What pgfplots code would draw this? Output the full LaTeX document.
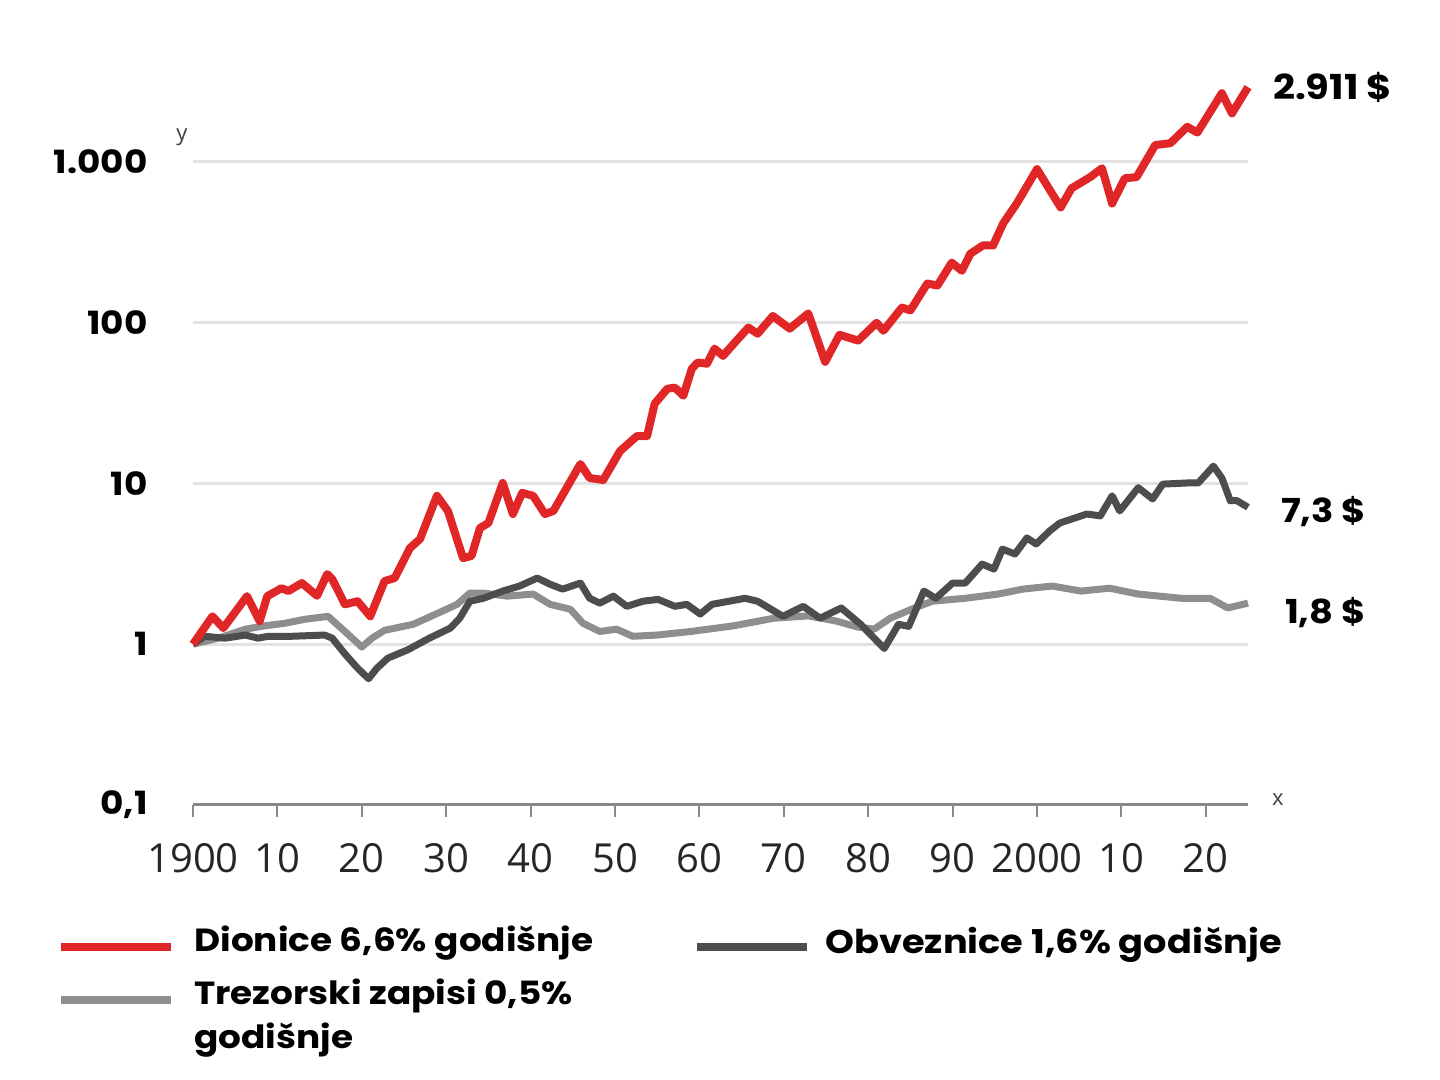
\documentclass[border=0pt]{standalone}
\usepackage{fontspec}
\setmainfont{Poppins}
\newfontfamily\lblfont{Poppins}[FakeStretch=1.12]
\newfontfamily\tickfont{Open Sans}
\usepackage{pgfplots}
\usepackage{pgfplotstable}
\pgfplotsset{compat=1.18}
\definecolor{stockred}{HTML}{E02626}
\definecolor{bonddark}{HTML}{4D4D4D}
\definecolor{billgrey}{HTML}{8E8E8E}
\definecolor{gridgrey}{HTML}{E2E2E2}
\definecolor{axisgrey}{HTML}{888888}

\pgfplotstableread{
year val
1900 1.0
1902.3 1.49
1903.6 1.26
1906.4 1.99
1907.9 1.39
1908.8 1.99
1910.5 2.23
1911.3 2.14
1912.9 2.40
1914.7 2.0
1915.9 2.73
1916.5 2.54
1918 1.77
1919.5 1.85
1921 1.49
1922.7 2.47
1923.9 2.58
1925.7 3.96
1926.9 4.51
1928.9 8.37
1930.2 6.74
1932 3.43
1933 3.54
1934 5.28
1935 5.67
1936.7 10.06
1937.9 6.45
1939 8.73
1940.3 8.37
1941.7 6.45
1942.7 6.74
1945.9 13.2
1947 10.8
1948.6 10.5
1950.6 15.9
1952.6 19.7
1953.8 19.7
1954.7 31.3
1956.2 38.8
1957.1 39.4
1958.1 35.1
1959.1 51.6
1959.8 56.5
1960.9 55.5
1961.8 68.9
1962.8 62.1
1964.4 77.3
1965.8 93.1
1966.9 85.3
1968.7 110
1970.7 91.7
1972.9 114
1974.9 57
1976.6 84
1978.8 77.3
1981 99.8
1981.8 89
1984 124
1985 119
1987 175
1988.2 170
1989.9 236
1991.1 210
1992.1 268
1993.6 302
1994.8 302
1996 415
1997.6 550
2000 900
2002.8 520
2004.1 685
2006.3 803
2007.7 912
2008.9 550
2010.4 790
2011.8 803
2014 1270
2015.8 1305
2017.8 1650
2019 1520
2021.9 2670
2023.1 2000
2025 2911
}\stocks

\pgfplotstableread{
year val
1900 1.0
1901.4 1.12
1903.8 1.09
1906.2 1.14
1907.7 1.09
1908.9 1.12
1911.7 1.12
1915.6 1.14
1916.5 1.09
1918 0.87
1919.5 0.71
1920.8 0.61
1921.8 0.71
1923.1 0.82
1925.4 0.92
1928 1.09
1930.5 1.26
1931.6 1.45
1932.8 1.85
1934.4 1.93
1936.7 2.14
1938.7 2.30
1940.8 2.58
1942.3 2.36
1943.8 2.20
1945.9 2.40
1947 1.93
1948.2 1.80
1949.8 1.99
1951.4 1.72
1953.3 1.85
1955.1 1.90
1957.1 1.72
1958.5 1.77
1960.1 1.54
1961.5 1.77
1963.5 1.85
1965.4 1.93
1966.9 1.85
1969.9 1.49
1972.3 1.72
1974.3 1.45
1976.8 1.68
1979.1 1.33
1981.9 0.94
1983.6 1.33
1984.8 1.29
1986.6 2.14
1988 1.93
1990 2.40
1991.5 2.40
1993.5 3.15
1994.9 2.93
1995.9 3.90
1997.4 3.64
1998.8 4.58
1999.9 4.20
2001.5 5.06
2002.7 5.67
2005.9 6.45
2007.5 6.28
2008.9 8.37
2009.8 6.74
2012 9.4
2013.7 8.0
2014.9 9.9
2017.8 10.06
2019.1 10.06
2020.9 12.8
2021.9 10.8
2022.9 7.8
2023.7 7.8
2025 7.1
}\bonds

\pgfplotstableread{
year val
1900 1.0
1903 1.09
1906.2 1.24
1908.5 1.30
1910.9 1.35
1913.3 1.43
1916 1.49
1918 1.20
1920 0.96
1921.2 1.09
1922.7 1.22
1926.1 1.33
1929.6 1.61
1931.3 1.77
1932.8 2.08
1934.4 2.08
1937.2 1.99
1940.3 2.05
1942.3 1.77
1944.7 1.65
1946.2 1.35
1948.2 1.20
1950.2 1.24
1952.1 1.12
1955 1.14
1959 1.20
1964 1.30
1968.8 1.45
1972.9 1.50
1976.3 1.39
1978.7 1.28
1980.7 1.24
1982.6 1.45
1985.5 1.68
1987.6 1.85
1991.5 1.93
1995.4 2.05
1998.3 2.20
2001.8 2.30
2005.2 2.14
2008.6 2.23
2012 2.05
2017.1 1.93
2020.5 1.93
2022.6 1.68
2025 1.80
}\bills

\begin{document}
\begin{tikzpicture}
\useasboundingbox (-96.5pt,-137.5pt) rectangle (623.5pt,402.5pt);
\begin{axis}[
  at={(0pt,0pt)}, anchor=south west,
  scale only axis, width=527.5pt, height=402pt,
  xmin=1900, xmax=2025,
  ymode=log, ymin=0.1, ymax=10000,
  clip=false,
  axis x line*=bottom, axis y line*=left,
  x axis line style={draw=axisgrey, line width=1.5pt},
  y axis line style={draw=none},
  xtick={1900,1910,1920,1930,1940,1950,1960,1970,1980,1990,2000,2010,2020},
  xticklabels={1900,10,20,30,40,50,60,70,80,90,2000,10,20},
  ytick={0.1,1,10,100,1000},
  yticklabels={{0,1},1,10,100,{1.000}},
  minor ytick={},
  log ticks with fixed point,
  ymajorgrids,
  grid style={draw=gridgrey, line width=1.5pt},
  tick align=outside,
  xtick style={draw=axisgrey, line width=1pt},
  ytick style={draw=none},
  major tick length=6pt,
  xticklabel style={font=\tickfont\fontsize{20}{24}\selectfont, text=black!85, anchor=north, inner sep=0pt, yshift=-13pt},
  yticklabel style={font=\lblfont\bfseries\fontsize{16}{20}\selectfont, text=black, anchor=east, inner sep=0pt, xshift=-16.5pt},
  /pgf/number format/assume math mode=true,
  legend style={at={(axis description cs:-0.1289,-0.1494)}, anchor=north west,
    draw=none, fill=none, inner sep=0pt, row sep=12.5pt,
    font=\lblfont\bfseries\fontsize{16}{21}\selectfont,
    /tikz/every even column/.append style={column sep=49.5pt},
    nodes={inner sep=0pt, align=left}},
  legend columns=2,
  legend cell align=left,
  legend image code/.code={\draw[#1, line width=4pt] (0pt,-3.5pt) -- (55pt,-3.5pt);},
]
\addplot[billgrey, line width=3.5pt, line join=round, forget plot] table[x=year,y=val] {\bills};
\addplot[bonddark, line width=3.5pt, line join=round, forget plot] table[x=year,y=val] {\bonds};
\addplot[stockred, line width=4pt, line join=round, forget plot] table[x=year,y=val] {\stocks};
\addlegendimage{stockred}
\addlegendentry{\hspace{9.5pt}Dionice 6,6\% godišnje}
\addlegendimage{bonddark}
\addlegendentry{\hspace{7.5pt}\raisebox{-2pt}{\fontsize{16.4}{21}\selectfont Obveznice 1,6\% godišnje}}
\addlegendimage{billgrey}
\addlegendentry{\vtop{\baselineskip=22pt\hbox{\hspace{9.5pt}Trezorski zapisi 0,5\%}\hbox{\hspace{9.5pt}godišnje}}}
\node[anchor=west, font=\lblfont\bfseries\fontsize{17.2}{20}\selectfont, xshift=9pt] at (axis cs:2025,2911) {2.911 \$};
\node[anchor=west, font=\lblfont\bfseries\fontsize{16.5}{20}\selectfont, xshift=13pt, yshift=-3pt] at (axis cs:2025,7.3) {7,3 \$};
\node[anchor=west, font=\lblfont\bfseries\fontsize{16.5}{20}\selectfont, xshift=15pt, yshift=-4.5pt] at (axis cs:2025,1.8) {1,8 \$};
\end{axis}
\node[font=\tickfont\fontsize{11}{13}\selectfont, text=black!75] at (-5.5pt,334pt) {y};
\node[font=\tickfont\fontsize{11}{13}\selectfont, text=black!75] at (542.5pt,2.5pt) {x};
\end{tikzpicture}
\end{document}
